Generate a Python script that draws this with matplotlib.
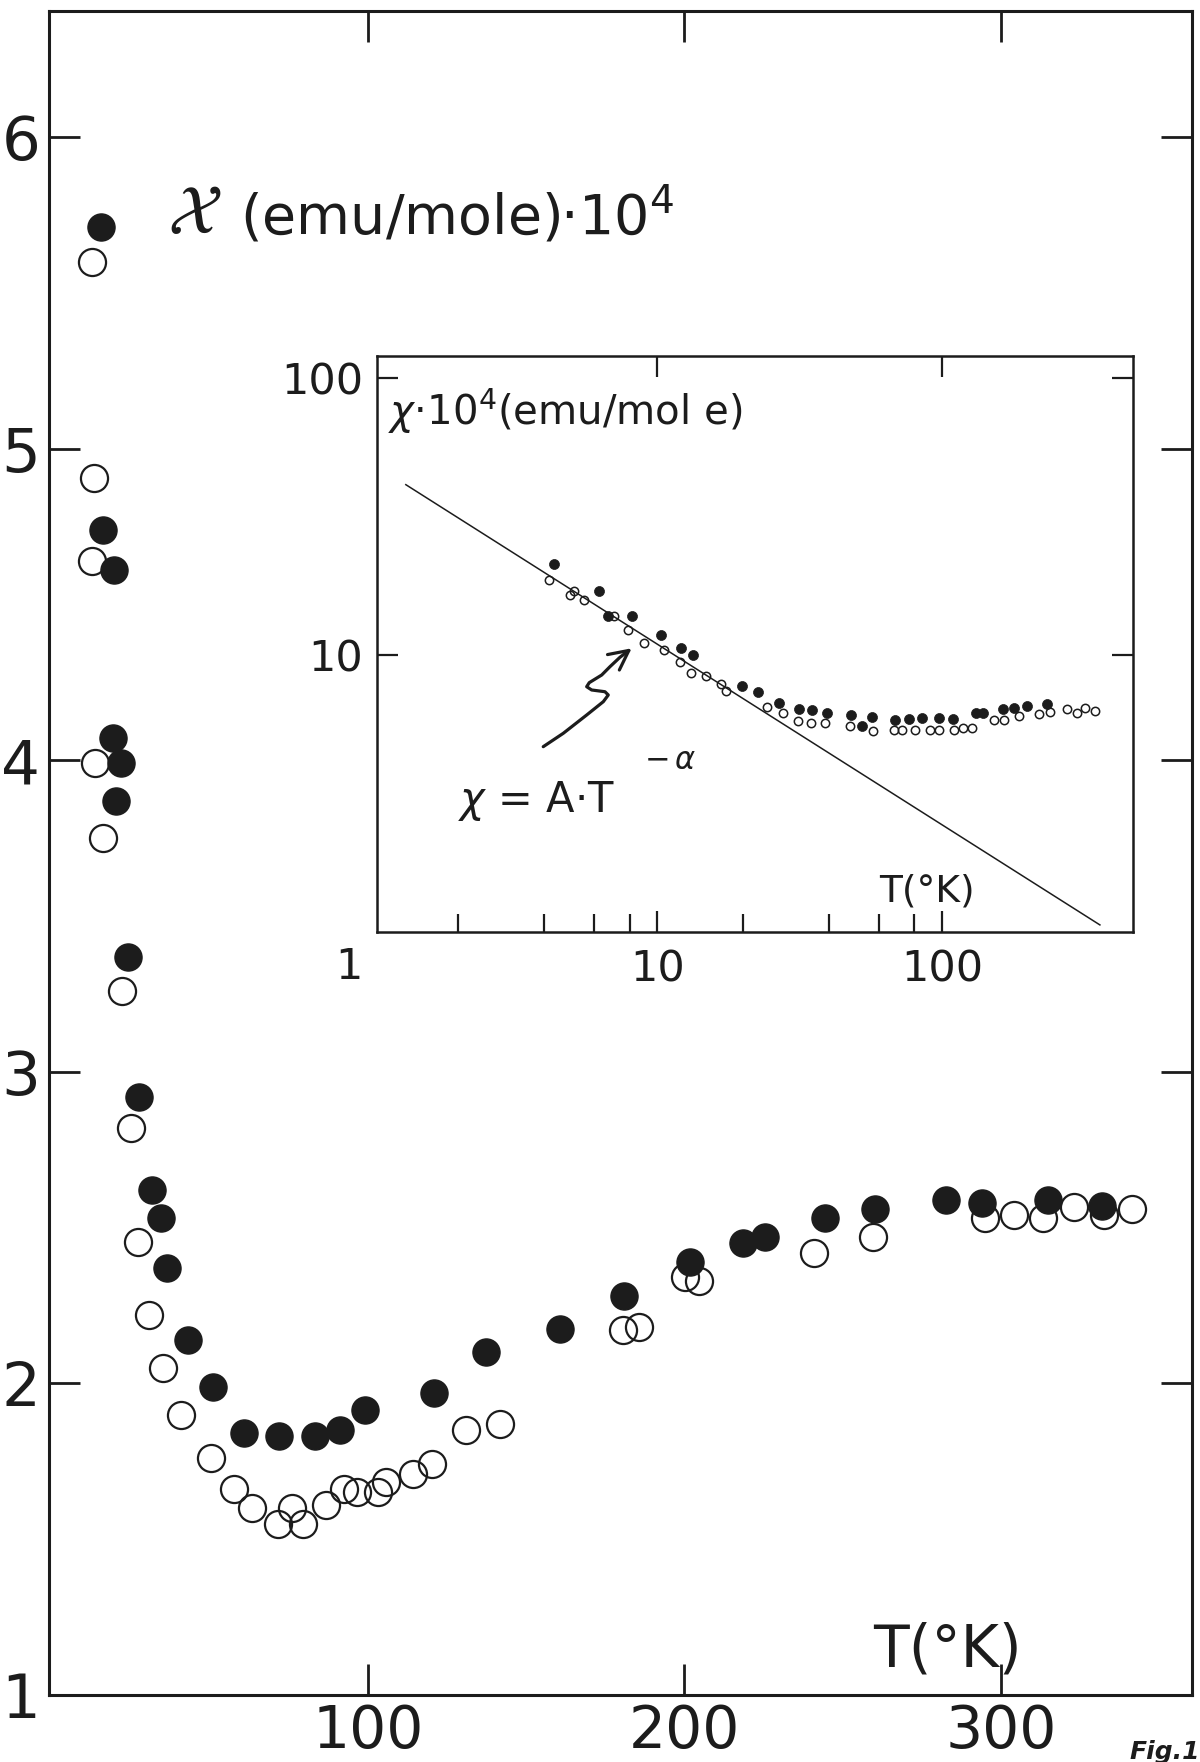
import matplotlib
matplotlib.use("Agg")
import matplotlib.pyplot as plt
import matplotlib.transforms as mtransforms
from matplotlib.ticker import FixedLocator, NullLocator, FixedFormatter
from matplotlib.patches import FancyArrowPatch
from matplotlib.path import Path

plt.rcParams['font.family'] = ['DejaVu Sans']
plt.rcParams['mathtext.fontset'] = 'dejavusans'

# ---------------- main plot data: chi (emu/mole)*1e4 vs T (K) ----------------
T_filled = [15.8, 16.2, 19.8, 19.3, 22.0, 20.3, 24.1, 27.6, 31.7, 34.6, 36.6, 43.0,
            50.9, 60.8, 72.0, 83.4, 91.1, 99.1, 120.9, 137.4, 160.6, 181.0, 201.7,
            218.6, 225.4, 244.4, 260.2, 282.6, 293.9, 314.9, 332.1]
chi_filled = [5.71, 4.74, 4.61, 4.07, 3.99, 3.87, 3.37, 2.92, 2.62, 2.53, 2.37, 2.14,
              1.99, 1.84, 1.83, 1.83, 1.85, 1.915, 1.97, 2.10, 2.175, 2.28, 2.39,
              2.45, 2.47, 2.53, 2.56, 2.59, 2.58, 2.59, 2.57]

T_open = [12.7, 13.5, 12.7, 13.7, 16.4, 22.2, 25.1, 27.2, 30.8, 35.3, 41.0, 50.3,
          57.8, 63.3, 71.7, 75.9, 79.6, 86.6, 92.6, 96.5, 103.2, 105.8, 114.4, 120.4,
          131.0, 141.6, 180.5, 185.7, 200.3, 204.5, 240.9, 259.5, 294.9, 304.2, 313.2,
          323.1, 332.6, 341.3]
chi_open = [5.60, 4.905, 4.64, 3.99, 3.75, 3.26, 2.82, 2.455, 2.22, 2.05, 1.90, 1.76,
            1.66, 1.60, 1.55, 1.60, 1.55, 1.61, 1.66, 1.65, 1.65, 1.685, 1.71, 1.74,
            1.85, 1.87, 2.17, 2.18, 2.34, 2.33, 2.42, 2.47, 2.53, 2.54, 2.53,
            2.565, 2.54, 2.56]

main_xticks = [100, 200, 300]
main_yticks = [1, 2, 3, 4, 5, 6]

# ---------------- inset data (log-log) ----------------
Tin_filled = [4.33, 6.23, 6.7, 8.16, 10.3, 12.1, 13.4, 19.9, 22.6, 26.7, 31.4, 35.0,
              39.5, 48.1, 52.4, 56.8, 68.6, 76.4, 85.1, 97.4, 109.3, 132, 139, 164,
              179, 199, 234]
chiin_filled = [21.4, 17.0, 13.9, 13.9, 11.8, 10.6, 10.0, 7.73, 7.37, 6.73, 6.40, 6.33,
                6.16, 6.07, 5.54, 5.99, 5.83, 5.87, 5.94, 5.94, 5.89, 6.16, 6.16, 6.37,
                6.42, 6.54, 6.64]

Tin_open = [4.16, 5.09, 4.93, 5.52, 7.08, 7.88, 9.02, 10.6, 12.0, 13.2, 14.8, 16.7,
            17.5, 24.4, 27.6, 31.2, 34.8, 39.0, 47.7, 57.5, 68.1, 72.4, 80.7, 91.1,
            97.4, 110, 119, 128, 152, 165, 186, 219, 240, 275, 298, 319, 346]
chiin_open = [18.7, 17.0, 16.5, 15.8, 13.9, 12.3, 11.1, 10.4, 9.46, 8.63, 8.40, 7.84,
              7.43, 6.51, 6.16, 5.78, 5.70, 5.67, 5.54, 5.32, 5.36, 5.36, 5.36, 5.36,
              5.36, 5.36, 5.44, 5.47, 5.83, 5.83, 6.04, 6.11, 6.24, 6.37, 6.16, 6.42, 6.28]

# power-law fit line chi = A*T^-alpha (end points)
fit_T = [1.31, 359.0]
fit_chi = [41.3, 1.06]

inset_xticks = [10, 100]
inset_xminor = [2, 4, 6, 8, 20, 40, 60, 80]
inset_yticks = [10, 100]

INK = '#1c1c1c'

fig = plt.figure(figsize=(12, 17.62), dpi=100)
fig.patch.set_facecolor('white')

# ---------------- main axes ----------------
ax = fig.add_axes([0.0405, 0.0380, 0.9528, 0.9559])
ax.plot(T_open, chi_open, 'o', ms=19.5, mfc='none', mec=INK, mew=1.6, zorder=3)
ax.plot(T_filled, chi_filled, 'o', ms=19.5, mfc=INK, mec=INK, mew=1.0, zorder=4)
ax.set_xlim(-0.9, 360.4)
ax.set_ylim(1.0, 6.405)
ax.set_xticks(main_xticks)
ax.set_yticks(main_yticks)
ax.set_xticklabels([str(t) for t in main_xticks])
ax.set_yticklabels([str(t) for t in main_yticks])
for s in ax.spines.values():
    s.set_linewidth(2.2)
    s.set_color(INK)
ax.tick_params(direction='in', length=22, width=2.0, color=INK, top=True, right=True,
               labelsize=44, labelcolor=INK)
ax.tick_params(axis='x', pad=6, labelsize=42)
ax.tick_params(axis='y', pad=6)

ax.text(0.1045, 0.868, r"$\mathcal{X}$", transform=ax.transAxes,
        fontsize=50, ha='left', va='baseline', color=INK)
ax.text(0.1674, 0.868, r"(emu/mole)·10$^{4}$", transform=ax.transAxes,
        fontsize=40, ha='left', va='baseline', color=INK)
ax.text(0.7864, 0.0168, "T(°K)", transform=ax.transAxes, fontsize=42,
        ha='center', va='baseline', color=INK)

# ---------------- inset axes ----------------
ax_in = fig.add_axes([0.3144, 0.4711, 0.6295, 0.3270])
ax_in.set_xscale('log')
ax_in.set_yscale('log')
ax_in.plot(fit_T, fit_chi, '-', color=INK, lw=1.1, zorder=2)
ax_in.plot(Tin_open, chiin_open, 'o', ms=6.0, mfc='none', mec=INK, mew=1.1, zorder=3)
ax_in.plot(Tin_filled, chiin_filled, 'o', ms=7.2, mfc=INK, mec=INK, mew=0.5, zorder=4)
ax_in.set_xlim(1.04, 468)
ax_in.set_ylim(1.0, 120.7)
ax_in.xaxis.set_major_locator(FixedLocator(inset_xticks))
ax_in.xaxis.set_major_formatter(FixedFormatter([str(t) for t in inset_xticks]))
ax_in.xaxis.set_minor_locator(FixedLocator(inset_xminor))
ax_in.yaxis.set_major_locator(FixedLocator(inset_yticks))
ax_in.yaxis.set_major_formatter(FixedFormatter([str(t) for t in inset_yticks]))
ax_in.yaxis.set_minor_locator(NullLocator())
for s in ax_in.spines.values():
    s.set_linewidth(1.8)
    s.set_color(INK)
ax_in.tick_params(which='major', direction='in', length=15, width=1.6, color=INK,
                  top=True, right=True, labelsize=31, labelcolor=INK)
ax_in.tick_params(which='minor', direction='in', length=13, width=1.6, color=INK,
                  top=False, bottom=True)
ax_in.tick_params(axis='x', pad=12)
ax_in.tick_params(axis='y', pad=10)

# label "1" shared at the origin corner
off = mtransforms.ScaledTranslation(-23 / 100, -14 / 100, fig.dpi_scale_trans)
ax_in.text(1.0, 1.0, "1", transform=ax_in.transData + off, fontsize=31,
           ha='center', va='top', color=INK, clip_on=False)

ax_in.text(0.0146, 0.880, r"$\chi$·10$^{4}$(emu/mol e)", transform=ax_in.transAxes,
           fontsize=29, ha='left', va='baseline', color=INK)
ax_in.text(0.7275, 0.053, "T(°K)", transform=ax_in.transAxes, fontsize=27,
           ha='center', va='baseline', color=INK)
ax_in.text(0.107, 0.2075, r"$\chi$ = A·T", transform=ax_in.transAxes,
           fontsize=30, ha='left', va='baseline', color=INK)
ax_in.text(0.353, 0.283, r"$-\,\alpha$", transform=ax_in.transAxes,
           fontsize=22, ha='left', va='baseline', color=INK)

squiggle = [(0.2197, 0.3215), (0.2462, 0.3447), (0.2772, 0.3765), (0.2992, 0.3996),
            (0.3058, 0.4112), (0.3014, 0.4169), (0.2838, 0.4199), (0.2772, 0.4256),
            (0.2806, 0.4326), (0.2971, 0.4459), (0.3080, 0.4603), (0.3213, 0.4767),
            (0.3368, 0.4923)]
arrow = FancyArrowPatch(path=Path(squiggle), arrowstyle='->,head_length=0.7,head_width=0.35',
                        mutation_scale=20, lw=2.3, color=INK, transform=ax_in.transAxes)
ax_in.add_patch(arrow)

fig.text(0.941, 0.0125, "Fig.1", fontsize=18, fontweight='bold', fontstyle='italic',
         ha='left', va='top', color=INK)

fig.savefig("out.png", dpi=100, facecolor='white')
